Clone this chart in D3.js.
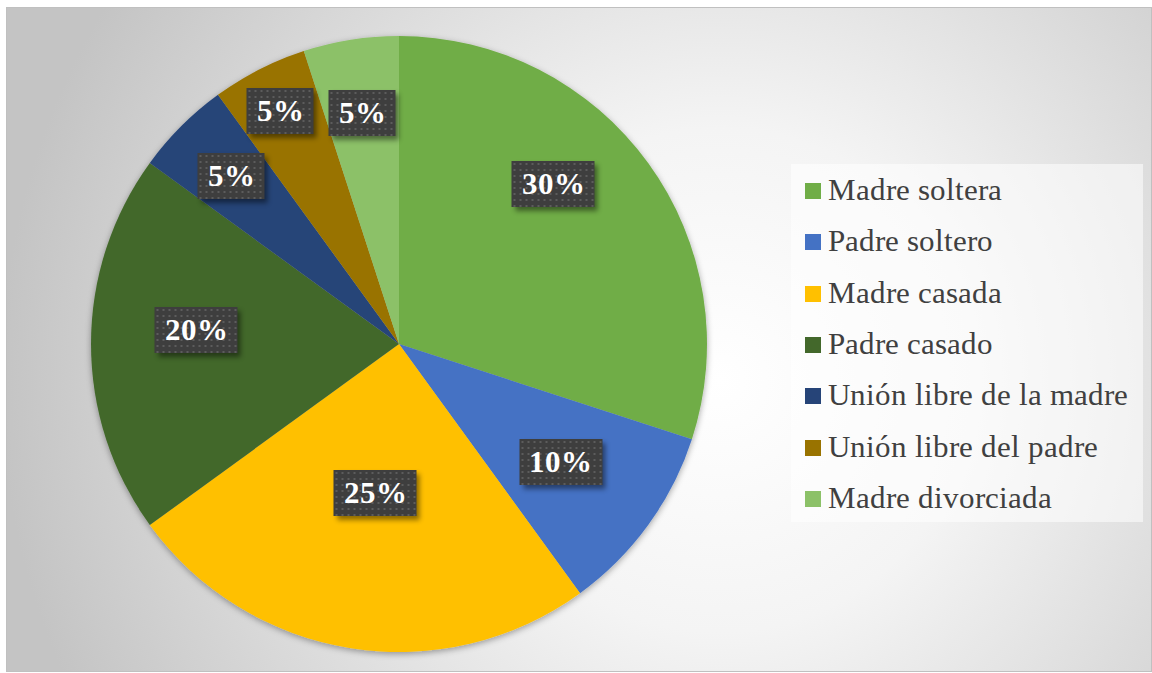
<!DOCTYPE html>
<html>
<head>
<meta charset="utf-8">
<script src="https://cdn.jsdelivr.net/npm/d3@7"></script>
<style>
  @font-face { font-family: 'ChartSerif'; src: local('Liberation Serif'), local('LiberationSerif'); font-weight: normal; }
  @font-face { font-family: 'ChartSerif'; src: local('Liberation Serif Bold'), local('LiberationSerif-Bold'); font-weight: bold; }
  body { margin: 0; background: #fff; }
  #chart { position: relative; width: 1152px; height: 673px; }
  svg { display: block; position: absolute; left: 0; top: 0; }
  .serif { font-family: 'ChartSerif', 'Liberation Serif', 'Times New Roman', serif; }
  .lbl {
    position: absolute;
    font-weight: bold;
    font-size: 31px;
    color: #fff;
    line-height: 46px;
    height: 46px;
    padding: 0 10px;
    white-space: nowrap;
    background-color: #3e3e3e;
    background-image: radial-gradient(#5c5c5c 1px, transparent 1.2px);
    background-size: 6px 6px;
    box-shadow: 3px 4px 5px rgba(0, 0, 0, 0.45);
    transform: translate(-50%, -50%);
  }
  .leg-item {
    position: absolute;
    font-size: 31px;
    color: #404040;
    white-space: nowrap;
    line-height: 34px;
    transform: translateY(-50%);
  }
  .leg-item span.sw {
    display: inline-block;
    width: 16px; height: 16px;
    margin-right: 7px;
    vertical-align: 1px;
  }
</style>
</head>
<body>
<div id="chart"></div>
<script>
// Data
const categories = ['Madre soltera', 'Padre soltero', 'Madre casada', 'Padre casado',
  'Unión libre de la madre', 'Unión libre del padre', 'Madre divorciada'];
const values = [30, 10, 25, 20, 5, 5, 5];
const colors = ['#70ad47', '#4472c4', '#ffc000', '#43682b', '#264478', '#997300', '#8cc168'];

// label placement (fraction of radius, angle nudge in degrees), mimics Excel best fit
const labelRadius = [0.72, 0.65, 0.49, 0.66, 0.77, 0.85, 0.76];
const labelNudge = [-10, 0, 0, 4, 0, 0, 0];

const W = 1152, H = 673;
const container = d3.select('#chart');
const svg = container.append('svg')
  .attr('width', W)
  .attr('height', H);

const defs = svg.append('defs');

// background gradient
const bg = defs.append('radialGradient')
  .attr('id', 'bg')
  .attr('gradientUnits', 'userSpaceOnUse')
  .attr('cx', 720).attr('cy', 380).attr('r', 720);
bg.append('stop').attr('offset', '0%').attr('stop-color', '#ffffff');
bg.append('stop').attr('offset', '35%').attr('stop-color', '#f4f4f4');
bg.append('stop').attr('offset', '100%').attr('stop-color', '#c4c4c4');

const pieShadow = defs.append('filter').attr('id', 'pieShadow')
  .attr('x', '-10%').attr('y', '-10%').attr('width', '120%').attr('height', '120%');
pieShadow.append('feDropShadow')
  .attr('dx', 0).attr('dy', 2).attr('stdDeviation', 3)
  .attr('flood-color', '#000').attr('flood-opacity', 0.35);

// chart area
svg.append('rect')
  .attr('x', 6.5).attr('y', 7.5)
  .attr('width', W - 7).attr('height', H - 9)
  .attr('fill', 'url(#bg)')
  .attr('stroke', '#c0c0c0')
  .attr('stroke-width', 1);

// pie
const cx = 399, cy = 344, r = 308;
const pie = d3.pie().sort(null).value(d => d);
const arcs = pie(values);
const arc = d3.arc().innerRadius(0).outerRadius(r);

svg.append('g')
  .attr('transform', `translate(${cx},${cy})`)
  .attr('filter', 'url(#pieShadow)')
  .selectAll('path')
  .data(arcs)
  .join('path')
  .attr('d', arc)
  .attr('fill', (d, i) => colors[i]);

// legend background
const lx = 791, ly = 164, lw = 352, lh = 358;
svg.append('rect')
  .attr('x', lx).attr('y', ly)
  .attr('width', lw).attr('height', lh)
  .attr('fill', '#ffffff')
  .attr('fill-opacity', 0.55);

// data labels
container.selectAll('div.lbl')
  .data(arcs)
  .join('div')
  .attr('class', 'lbl serif')
  .style('left', (d, i) => {
    const a = (d.startAngle + d.endAngle) / 2 + labelNudge[i] * Math.PI / 180;
    return (cx + r * labelRadius[i] * Math.sin(a)) + 'px';
  })
  .style('top', (d, i) => {
    const a = (d.startAngle + d.endAngle) / 2 + labelNudge[i] * Math.PI / 180;
    return (cy - r * labelRadius[i] * Math.cos(a)) + 'px';
  })
  .text(d => d.data + '%');

// legend entries
const rowY = d3.scalePoint()
  .domain(categories)
  .range([ly + 26, ly + 334]);

const items = container.selectAll('div.leg-item')
  .data(categories)
  .join('div')
  .attr('class', 'leg-item serif')
  .style('left', (lx + 14) + 'px')
  .style('top', d => rowY(d) + 'px');

items.append('span')
  .attr('class', 'sw')
  .style('background', (d, i) => colors[i]);
items.append('span').text(d => d);
</script>
</body>
</html>
